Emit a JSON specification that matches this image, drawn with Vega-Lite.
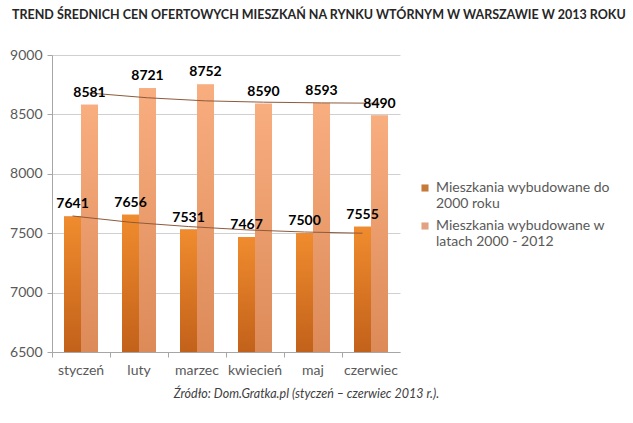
{
  "$schema": "https://vega.github.io/schema/vega-lite/v6.json",
  "autosize": {"type": "none"},
  "width": 348,
  "height": 297,
  "padding": {"left": 52, "top": 55, "right": 233, "bottom": 71},
  "background": "white",
  "title": {
    "text": "TREND ŚREDNICH CEN OFERTOWYCH MIESZKAŃ NA RYNKU WTÓRNYM W WARSZAWIE W 2013 ROKU",
    "anchor": "start",
    "frame": "group",
    "dx": -40,
    "offset": 27,
    "font": "Lato",
    "fontSize": 12.5,
    "fontWeight": "bold",
    "color": "#262626"
  },
  "datasets": {
    "bars": [
      {"month": "styczeń", "series": "Mieszkania wybudowane do 2000 roku", "value": 7641},
      {"month": "luty", "series": "Mieszkania wybudowane do 2000 roku", "value": 7656},
      {"month": "marzec", "series": "Mieszkania wybudowane do 2000 roku", "value": 7531},
      {"month": "kwiecień", "series": "Mieszkania wybudowane do 2000 roku", "value": 7467},
      {"month": "maj", "series": "Mieszkania wybudowane do 2000 roku", "value": 7500},
      {"month": "czerwiec", "series": "Mieszkania wybudowane do 2000 roku", "value": 7555},
      {"month": "styczeń", "series": "Mieszkania wybudowane w latach 2000 - 2012", "value": 8581},
      {"month": "luty", "series": "Mieszkania wybudowane w latach 2000 - 2012", "value": 8721},
      {"month": "marzec", "series": "Mieszkania wybudowane w latach 2000 - 2012", "value": 8752},
      {"month": "kwiecień", "series": "Mieszkania wybudowane w latach 2000 - 2012", "value": 8590},
      {"month": "maj", "series": "Mieszkania wybudowane w latach 2000 - 2012", "value": 8593},
      {"month": "czerwiec", "series": "Mieszkania wybudowane w latach 2000 - 2012", "value": 8490}
    ],
    "trend": [
      {"month": "styczeń", "series": "Mieszkania wybudowane do 2000 roku", "trend": 7645},
      {"month": "luty", "series": "Mieszkania wybudowane do 2000 roku", "trend": 7592},
      {"month": "marzec", "series": "Mieszkania wybudowane do 2000 roku", "trend": 7556},
      {"month": "kwiecień", "series": "Mieszkania wybudowane do 2000 roku", "trend": 7528},
      {"month": "maj", "series": "Mieszkania wybudowane do 2000 roku", "trend": 7510},
      {"month": "czerwiec", "series": "Mieszkania wybudowane do 2000 roku", "trend": 7500},
      {"month": "styczeń", "series": "Mieszkania wybudowane w latach 2000 - 2012", "trend": 8680},
      {"month": "luty", "series": "Mieszkania wybudowane w latach 2000 - 2012", "trend": 8640},
      {"month": "marzec", "series": "Mieszkania wybudowane w latach 2000 - 2012", "trend": 8614},
      {"month": "kwiecień", "series": "Mieszkania wybudowane w latach 2000 - 2012", "trend": 8603},
      {"month": "maj", "series": "Mieszkania wybudowane w latach 2000 - 2012", "trend": 8597},
      {"month": "czerwiec", "series": "Mieszkania wybudowane w latach 2000 - 2012", "trend": 8594}
    ]
  },
  "encoding": {
    "x": {
      "field": "month",
      "type": "nominal",
      "sort": ["styczeń", "luty", "marzec", "kwiecień", "maj", "czerwiec"],
      "scale": {"paddingInner": 0, "paddingOuter": 0},
      "axis": {
        "title": "Źródło: Dom.Gratka.pl (styczeń – czerwiec 2013 r.).",
        "titleFont": "Lato",
        "titleFontStyle": "italic",
        "titleFontWeight": "normal",
        "titleFontSize": 12.5,
        "titleColor": "#404040",
        "titleX": 254,
        "titleAlign": "center",
        "titlePadding": 10,
        "labelAngle": 0,
        "labelFont": "Lato",
        "labelFontSize": 14,
        "labelColor": "#595959",
        "labelPadding": 6,
        "bandPosition": 0,
        "tickSize": 5,
        "tickColor": "#A6A6A6",
        "domainColor": "#A6A6A6",
        "grid": false
      }
    },
    "xOffset": {
      "field": "series",
      "type": "nominal",
      "scale": {"paddingInner": 0, "paddingOuter": 0.706}
    },
    "y": {
      "type": "quantitative",
      "scale": {"domain": [6500, 9000], "zero": false, "nice": false},
      "axis": {
        "title": null,
        "format": "d",
        "values": [6500, 7000, 7500, 8000, 8500, 9000],
        "labelFont": "Lato",
        "labelFontSize": 14,
        "labelColor": "#595959",
        "labelPadding": 5,
        "tickSize": 5,
        "tickColor": "#A6A6A6",
        "domainColor": "#A6A6A6",
        "gridColor": "#D0D0D0"
      }
    }
  },
  "layer": [
    {
      "data": {"name": "bars"},
      "mark": {"type": "bar"},
      "encoding": {
        "y": {"field": "value", "type": "quantitative"},
        "y2": {"datum": 6500},
        "color": {
          "field": "series",
          "type": "nominal",
          "scale": {"range": ["#C67A3A", "#E2A282"]},
          "legend": {
            "title": null,
            "orient": "none",
            "legendX": 366,
            "legendY": 126,
            "symbolType": "square",
            "symbolSize": 50,
            "labelFont": "Lato",
            "labelFontSize": 14,
            "labelColor": "#595959",
            "labelLimit": 250,
            "rowPadding": 8,
            "labelExpr": "datum.label == 'Mieszkania wybudowane do 2000 roku' ? ['Mieszkania wybudowane do', '2000 roku'] : ['Mieszkania wybudowane w', 'latach 2000 - 2012']"
          }
        }
      }
    },
    {
      "data": {"name": "bars"},
      "transform": [{"filter": "datum.series == 'Mieszkania wybudowane do 2000 roku'"}],
      "mark": {"type": "bar", "color": {"gradient": "linear", "x1": 0, "y1": 0, "x2": 0, "y2": 1, "stops": [{"offset": 0, "color": "#F08C2E"}, {"offset": 1, "color": "#C2611A"}]}},
      "encoding": {
        "y": {"field": "value", "type": "quantitative"},
        "y2": {"datum": 6500}
      }
    },
    {
      "data": {"name": "bars"},
      "transform": [{"filter": "datum.series == 'Mieszkania wybudowane w latach 2000 - 2012'"}],
      "mark": {"type": "bar", "color": {"gradient": "linear", "x1": 0, "y1": 0, "x2": 0, "y2": 1, "stops": [{"offset": 0, "color": "#F9AE80"}, {"offset": 1, "color": "#DC8A58"}]}},
      "encoding": {
        "y": {"field": "value", "type": "quantitative"},
        "y2": {"datum": 6500}
      }
    },
    {
      "data": {"name": "trend"},
      "mark": {"type": "line", "color": "#8E5A3A", "strokeWidth": 1},
      "encoding": {
        "y": {"field": "trend", "type": "quantitative"},
        "detail": {"field": "series"}
      }
    },
    {
      "data": {"name": "bars"},
      "mark": {"type": "text", "dy": -12, "font": "Lato", "fontSize": 14, "fontWeight": "bold", "color": "#000000"},
      "encoding": {
        "y": {"field": "value", "type": "quantitative"},
        "text": {"field": "value", "type": "quantitative", "format": "d"}
      }
    }
  ],
  "config": {"view": {"stroke": null}}
}
